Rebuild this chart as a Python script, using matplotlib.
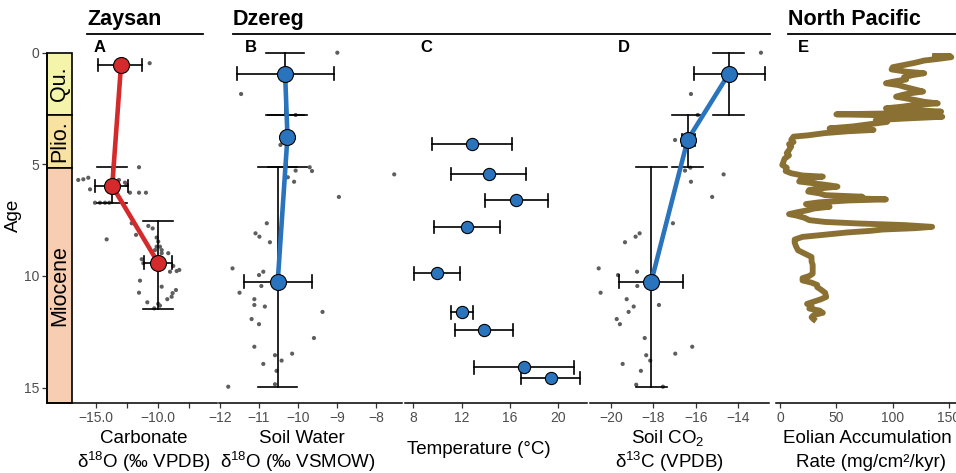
import numpy as np
import matplotlib
matplotlib.use('Agg')
import matplotlib.pyplot as plt
from matplotlib.patches import Rectangle
from matplotlib.lines import Line2D

# ---------------- data ----------------
stage_names = ['Qu.', 'Plio.', 'Miocene']
stage_top = [0.0, 2.79, 5.15]
stage_base = [2.79, 5.15, 15.69]
stage_colors = ['#F4F4AA', '#F8E2A2', '#F7CEB2']

# Panel A (Zaysan carbonate d18O)
a_mean_x = [-12.98, -13.69, -10.0]
a_mean_age = [0.55, 5.97, 9.40]
a_x_lo = [-14.86, -15.08, -11.15]
a_x_hi = [-11.27, -12.40, -8.85]
a_age_lo = [np.nan, 5.10, 7.54]
a_age_hi = [np.nan, 6.72, 11.48]
a_pts_x = [-10.67, -11.53, -16.43, -16.02, -15.62, -15.48, -13.87, -13.15, -12.66, -12.52,
           -12.26, -11.53, -10.97, -15.08, -14.68, -14.27, -13.93, -14.14, -12.12, -10.78,
           -10.43, -11.77, -10.11, -9.98, -10.11, -9.84, -9.70, -10.24, -9.17, -9.70,
           -11.31, -11.18, -8.77, -8.28, -8.49, -9.03, -11.45, -9.70, -8.55, -8.82,
           -8.90, -11.53, -9.25, -10.86, -9.84, -9.98, -10.30]
a_pts_age = [0.47, 5.13, 5.70, 5.67, 5.60, 6.12, 5.78, 5.70, 5.82, 5.92,
             6.27, 6.27, 6.27, 6.72, 6.72, 6.72, 6.72, 8.36, 7.64, 7.76,
             7.87, 8.16, 8.28, 8.46, 8.69, 8.69, 8.84, 8.84, 8.98, 8.98,
             9.25, 9.43, 9.55, 9.73, 9.78, 9.81, 10.21, 10.48, 10.63, 10.77,
             10.93, 10.75, 11.04, 11.18, 11.33, 11.25, 11.45]

# Panel B (Dzereg soil water d18O)
b_mean_x = [-10.33, -10.27, -10.52]
b_mean_age = [0.94, 3.76, 10.25]
b_x_lo = [-11.57, np.nan, -11.39]
b_x_hi = [-9.08, np.nan, -9.65]
b_age_lo = [0.0, 2.79, 5.13]
b_age_hi = [2.79, 5.13, 14.96]
b_pts_x = [-8.99, -11.46, -10.06, -10.45, -9.70, -10.06, -9.64, -10.26, -10.10, -7.53,
           -8.95, -10.80, -11.09, -10.99, -10.72, -11.68, -10.89, -11.00, -10.94, -11.50,
           -11.12, -11.12, -10.85, -9.37, -11.19, -11.00, -9.59, -11.12, -10.59, -10.15,
           -10.42, -10.89, -10.55, -10.59, -11.79]
b_pts_age = [0.0, 1.85, 2.79, 4.13, 5.13, 5.28, 5.30, 5.58, 5.78, 5.45,
             6.46, 7.64, 8.09, 8.24, 8.49, 9.66, 9.81, 9.96, 10.45, 10.75,
             11.04, 11.30, 11.37, 11.61, 11.93, 12.16, 12.78, 13.17, 13.55, 13.48,
             13.79, 13.94, 14.25, 14.85, 14.96]

# Panel C (temperature)
c_temp = [12.83, 14.24, 16.53, 12.44, 9.96, 12.03, 13.88, 17.14, 19.37]
c_age = [4.10, 5.43, 6.61, 7.81, 9.88, 11.63, 12.43, 14.09, 14.58]
c_lo = [9.52, 11.12, 13.96, 9.74, 8.06, 11.12, 11.42, 13.02, 16.92]
c_hi = [16.14, 17.35, 19.15, 15.18, 11.87, 12.94, 16.28, 21.28, 21.77]

# Panel D (soil CO2 d13C)
d_mean_x = [-14.44, -16.39, -18.10]
d_mean_age = [0.94, 3.91, 10.25]
d_x_lo = [-16.09, -16.67, -19.61]
d_x_hi = [-12.74, -16.04, -16.61]
d_age_lo = [0.0, 2.79, 5.13]
d_age_hi = [2.79, 5.13, 14.96]
d_pts_x = [-12.93, -16.23, -15.91, -16.98, -16.51, -16.26, -16.23, -16.83, -14.69, -15.23,
           -17.08, -18.65, -18.84, -19.34, -20.58, -18.77, -19.67, -18.76, -20.49, -19.26,
           -18.93, -17.74, -19.17, -19.73, -19.58, -18.41, -16.17, -16.97, -18.34, -18.15,
           -19.45, -18.59, -18.81, -17.55]
d_pts_age = [0.0, 1.85, 2.79, 3.91, 5.28, 5.15, 5.78, 5.55, 5.45, 6.46,
             7.64, 8.09, 8.24, 8.49, 9.66, 9.81, 9.96, 10.45, 10.75, 11.04,
             11.37, 11.30, 11.61, 11.93, 12.16, 12.78, 13.17, 13.48, 13.55, 13.79,
             13.94, 14.25, 14.87, 14.96]

# Panel E (North Pacific eolian accumulation)
e_age = [0.05, 0.12, 0.20, 0.28, 0.35, 0.45, 0.55, 0.65, 0.75, 0.85, 0.92, 1.00, 1.10, 1.20,
         1.30, 1.37, 1.45, 1.55, 1.65, 1.74, 1.82, 1.90, 1.97, 2.05, 2.12, 2.20, 2.27, 2.35,
         2.42, 2.49, 2.56, 2.64, 2.70, 2.76, 2.80, 2.87, 2.95, 3.02, 3.10, 3.20, 3.30, 3.39,
         3.42, 3.46, 3.52, 3.60, 3.70, 3.76, 3.90, 4.00, 4.10, 4.20, 4.36, 4.50, 4.60, 4.75,
         4.90, 5.03, 5.15, 5.30, 5.40, 5.50, 5.55, 5.62, 5.70, 5.77, 5.85, 5.95, 6.00, 6.08,
         6.15, 6.22, 6.30, 6.38, 6.42, 6.45, 6.50, 6.57, 6.62, 6.70, 6.78, 6.85, 6.90, 6.98,
         7.05, 7.15, 7.23, 7.30, 7.40, 7.50, 7.58, 7.65, 7.72, 7.80, 7.86, 7.92, 7.98, 8.05,
         8.15, 8.25, 8.37, 8.50, 8.65, 8.85, 9.00, 9.15, 9.35, 9.50, 9.70, 9.90, 10.00, 10.10,
         10.20, 10.30, 10.40, 10.50, 10.60, 10.75, 10.94, 11.05, 11.15, 11.25, 11.35, 11.46,
         11.55, 11.65, 11.75, 11.85, 11.95, 12.02]
e_rate = [135, 150, 152, 140, 128, 120, 110, 100, 99, 112, 128, 118, 110, 112,
          100, 94, 105, 112, 120, 127, 115, 108, 103, 112, 120, 128, 140, 118,
          108, 94, 118, 143, 120, 50, 90, 144, 110, 85, 95, 80, 65, 44,
          70, 83, 60, 40, 25, 12, 10, 12, 8, 10, 8, 6, 8, 4,
          3, 2, 6, 5, 10, 20, 38, 25, 18, 17, 30, 45, 51, 35,
          26, 25, 35, 40, 60, 73, 55, 94, 60, 35, 23, 30, 44, 30,
          25, 15, 8, 15, 22, 26, 40, 70, 110, 135, 120, 91, 80, 60,
          40, 20, 13, 13, 14, 16, 22, 28, 28, 29, 29, 29, 26, 20,
          20, 28, 33, 33, 36, 40, 41, 36, 30, 24, 28, 26,
          35, 38, 30, 28, 30, 32]

# ---------------- style ----------------
plt.rcParams['font.family'] = ['Liberation Sans', 'DejaVu Sans']
plt.rcParams['mathtext.fontset'] = 'custom'
plt.rcParams['mathtext.rm'] = 'Liberation Sans'
plt.rcParams['mathtext.it'] = 'Liberation Sans:italic'
plt.rcParams['mathtext.bf'] = 'Liberation Sans:bold'

RED = '#D42A2C'
BLUE = '#2A74BE'
BROWN = '#8A7033'
GREY = '#5E5E5E'
TICKC = '#4D4D4D'

W, H = 956, 473
TOP, BOT = 52.7, 403.0
YMAX = 15.69

fig = plt.figure(figsize=(W / 100, H / 100), dpi=100)


def add_ax(x0, x1, xlim):
    ax = fig.add_axes([x0 / W, 1 - BOT / H, (x1 - x0) / W, (BOT - TOP) / H])
    ax.set_xlim(*xlim)
    ax.set_ylim(YMAX, 0)
    ax.patch.set_alpha(0)
    for s in ['top', 'right', 'left']:
        ax.spines[s].set_visible(False)
    ax.spines['bottom'].set_linewidth(1.1)
    ax.tick_params(axis='x', length=3.5, width=0.9, color='#333333', labelsize=10,
                   labelcolor=TICKC, pad=2)
    ax.set_yticks([])
    return ax


def herr(ax, y, lo, hi, cap=0.28, lw=1.2):
    if np.isnan(lo):
        return
    ax.plot([lo, hi], [y, y], color='black', lw=lw, zorder=3, clip_on=False)
    for v in (lo, hi):
        ax.plot([v, v], [y - cap, y + cap], color='black', lw=lw, zorder=3, clip_on=False)


def verr(ax, x, lo, hi, cap, lw=1.2):
    if np.isnan(lo):
        return
    ax.plot([x, x], [lo, hi], color='black', lw=lw, zorder=3, clip_on=False)
    for v in (lo, hi):
        ax.plot([x - cap / 2, x + cap / 2], [v, v], color='black', lw=lw, zorder=3, clip_on=False)


def means(ax, xs, ys, color, ms=11.5, line=True):
    if line:
        ax.plot(xs, ys, color=color, lw=3.3, zorder=4, solid_capstyle='round', clip_on=False)
    ax.plot(xs, ys, 'o', ms=ms, mfc=color, mec='black', mew=0.8, zorder=5,
            linestyle='none', clip_on=False)


def grey(ax, xs, ys):
    ax.scatter(xs, ys, s=9, color=GREY, edgecolors='none', zorder=2, clip_on=False)


# Panel A
axA = add_ax(47, 217, (-18.95, -5.24))
axA.spines['left'].set_visible(True)
axA.spines['left'].set_linewidth(1.1)
axA.set_yticks([0, 5, 10, 15])
axA.tick_params(axis='y', length=3.5, width=0.9, color='#333333', labelsize=10,
                labelcolor=TICKC, pad=2)
axA.set_xticks([-15, -12.5, -10, -7.5])
axA.set_xticklabels(['\u221215.0', '', '\u221210.0', ''])
for name, t, b, c in zip(stage_names, stage_top, stage_base, stage_colors):
    axA.add_patch(Rectangle((-18.95, t), -16.95 + 18.95, b - t, facecolor=c,
                            edgecolor='black', lw=1.2, zorder=1, clip_on=False))
    axA.text((-18.95 - 16.95) / 2, (t + b) / 2, name, rotation=90, ha='center',
             va='center', fontsize=15.5, color='black', zorder=2)
grey(axA, a_pts_x, a_pts_age)
for x, y, lo, hi, alo, ahi in zip(a_mean_x, a_mean_age, a_x_lo, a_x_hi, a_age_lo, a_age_hi):
    herr(axA, y, lo, hi)
    verr(axA, x, alo, ahi, 2.4)
means(axA, a_mean_x, a_mean_age, RED)

# Panel B
axB = add_ax(218.5, 402, (-12.04, -7.33))
axB.set_xticks([-12, -11, -10, -9, -8])
axB.set_xticklabels(['\u221212', '\u221211', '\u221210', '\u22129', '\u22128'])
grey(axB, b_pts_x, b_pts_age)
for x, y, lo, hi, alo, ahi in zip(b_mean_x, b_mean_age, b_x_lo, b_x_hi, b_age_lo, b_age_hi):
    herr(axB, y, lo, hi)
    verr(axB, x, alo, ahi, 0.99)
means(axB, b_mean_x, b_mean_age, BLUE)

# Panel C
axC = add_ax(405, 587.3, (7.31, 22.40))
axC.set_xticks([8, 12, 16, 20])
for t, y, lo, hi in zip(c_temp, c_age, c_lo, c_hi):
    herr(axC, y, lo, hi)
means(axC, c_temp, c_age, BLUE, ms=8.8, line=False)

# Panel D
axD = add_ax(590, 769, (-20.99, -12.55))
axD.set_xticks([-20, -18, -16, -14])
axD.set_xticklabels(['\u221220', '\u221218', '\u221216', '\u221214'])
grey(axD, d_pts_x, d_pts_age)
for x, y, lo, hi, alo, ahi in zip(d_mean_x, d_mean_age, d_x_lo, d_x_hi, d_age_lo, d_age_hi):
    herr(axD, y, lo, hi)
    verr(axD, x, alo, ahi, 1.46)
means(axD, d_mean_x, d_mean_age, BLUE)

# Panel E
axE = add_ax(776, 962, (-3.55, 161.5))
axE.set_xticks([0, 50, 100, 150])
axE.plot(e_rate, e_age, color=BROWN, lw=4.2, solid_joinstyle='round',
         solid_capstyle='butt', zorder=3)

# panel letters
for lab, x in zip(['A', 'B', 'C', 'D', 'E'], [100, 251, 426, 624, 803]):
    fig.text(x / W, 1 - 47.5 / H, lab, ha='center', va='center', fontsize=12,
             fontweight='bold')

# headers
for lab, x0, x1 in [('Zaysan', 87, 203), ('Dzereg', 233, 770), ('North Pacific', 788, 960)]:
    fig.text(x0 / W, 1 - 25 / H, lab, ha='left', va='baseline', fontsize=15.5,
             fontweight='bold')
    fig.add_artist(Line2D([x0 / W, x1 / W], [1 - 34.3 / H, 1 - 34.3 / H], color='black',
                          lw=1.3))

# axis titles
fig.text(13 / W, 1 - 215 / H, 'Age', rotation=90, ha='center', va='center', fontsize=13.5)
titles = [
    (144, 438, 'Carbonate'),
    (144, 462, r'δ$^{18}$O (‰ VPDB)'),
    (302, 438, 'Soil Water'),
    (298, 462, r'δ$^{18}$O (‰ VSMOW)'),
    (479, 449, 'Temperature (°C)'),
    (668, 438, r'Soil CO$_2$'),
    (669, 462, r'δ$^{13}$C (VPDB)'),
    (867, 438, 'Eolian Accumulation'),
    (871, 462, 'Rate (mg/cm²/kyr)'),
]
for x, y, s in titles:
    fig.text(x / W, 1 - y / H, s, ha='center', va='center', fontsize=13.5)

fig.savefig('out.png', dpi=100)
